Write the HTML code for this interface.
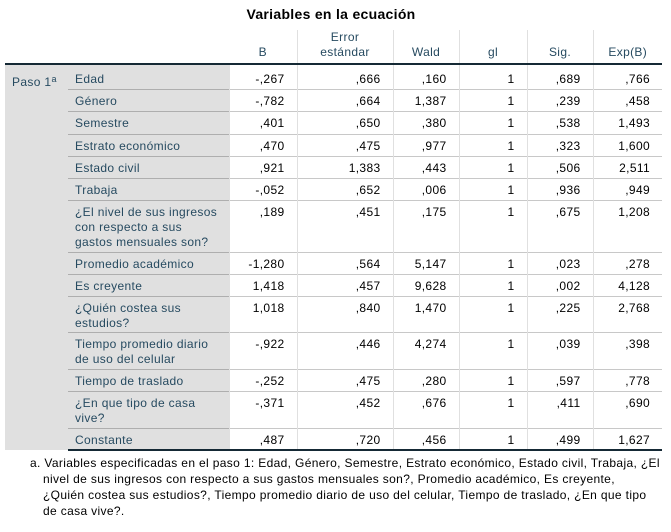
<!DOCTYPE html>
<html><head><meta charset="utf-8">
<style>
body{margin:0;width:671px;height:532px;background:#fff;position:relative;font-family:"Liberation Sans",Arial,sans-serif;font-size:12px;overflow:hidden;letter-spacing:0.35px}
#title{position:absolute;left:0;width:662px;top:6px;text-align:center;font-weight:bold;font-size:14px;color:#000;letter-spacing:0.3px}
table{position:absolute;left:5px;top:30px;border-collapse:collapse;table-layout:fixed;width:657px}
td,th{padding:0;font-weight:normal;line-height:15px;vertical-align:top;overflow:hidden;white-space:nowrap}
th{color:#264a60;text-align:center;vertical-align:bottom;padding-bottom:3px;border-left:1px solid #e0e0e0;height:29px;border-bottom:2px solid #152935}
th.e{border-left:none}
td.p{background:#e0e0e0;color:#264a60;padding:4px 0 0 7px}
td.v{background:#e0e0e0;color:#264a60;padding:4px 0 0 7px;border-top:1px solid #aeaeae}
td.n{text-align:right;padding:4px 12px 0 0;color:#000;border-top:1px solid #c8c8c8;border-left:1px solid #e0e0e0}
tr.first td.v,tr.first td.n{border-top:none;padding-top:7px}
tr.last td{border-bottom:2px solid #152935}
#foot{position:absolute;left:30px;top:455px;width:640px;line-height:16px;color:#000;white-space:nowrap}
#foot .i{padding-left:13px}
sup{font-size:9px;vertical-align:4px}
</style></head><body>
<div id="title">Variables en la ecuación</div>
<table>
<colgroup><col style="width:63px"><col style="width:161px"><col style="width:68px"><col style="width:96px"><col style="width:66px"><col style="width:68px"><col style="width:66px"><col style="width:69px"></colgroup>
<tr><th class="e"></th><th class="e"></th><th class="e">B</th><th>Error<br>estándar</th><th>Wald</th><th>gl</th><th>Sig.</th><th>Exp(B)</th></tr>
<tr class="first" style="height:25px"><td class="p" rowspan="14" style="padding-top:7px">Paso 1<sup>a</sup></td><td class="v">Edad</td><td class="n">-,267</td><td class="n">,666</td><td class="n">,160</td><td class="n">1</td><td class="n">,689</td><td class="n">,766</td></tr>
<tr style="height:22px"><td class="v">Género</td><td class="n">-,782</td><td class="n">,664</td><td class="n">1,387</td><td class="n">1</td><td class="n">,239</td><td class="n">,458</td></tr>
<tr style="height:23px"><td class="v">Semestre</td><td class="n">,401</td><td class="n">,650</td><td class="n">,380</td><td class="n">1</td><td class="n">,538</td><td class="n">1,493</td></tr>
<tr style="height:22px"><td class="v">Estrato económico</td><td class="n">,470</td><td class="n">,475</td><td class="n">,977</td><td class="n">1</td><td class="n">,323</td><td class="n">1,600</td></tr>
<tr style="height:22px"><td class="v">Estado civil</td><td class="n">,921</td><td class="n">1,383</td><td class="n">,443</td><td class="n">1</td><td class="n">,506</td><td class="n">2,511</td></tr>
<tr style="height:22px"><td class="v">Trabaja</td><td class="n">-,052</td><td class="n">,652</td><td class="n">,006</td><td class="n">1</td><td class="n">,936</td><td class="n">,949</td></tr>
<tr style="height:52px"><td class="v">¿El nivel de sus ingresos<br>con respecto a sus<br>gastos mensuales son?</td><td class="n">,189</td><td class="n">,451</td><td class="n">,175</td><td class="n">1</td><td class="n">,675</td><td class="n">1,208</td></tr>
<tr style="height:22px"><td class="v">Promedio académico</td><td class="n">-1,280</td><td class="n">,564</td><td class="n">5,147</td><td class="n">1</td><td class="n">,023</td><td class="n">,278</td></tr>
<tr style="height:22px"><td class="v">Es creyente</td><td class="n">1,418</td><td class="n">,457</td><td class="n">9,628</td><td class="n">1</td><td class="n">,002</td><td class="n">4,128</td></tr>
<tr style="height:36px"><td class="v">¿Quién costea sus<br>estudios?</td><td class="n">1,018</td><td class="n">,840</td><td class="n">1,470</td><td class="n">1</td><td class="n">,225</td><td class="n">2,768</td></tr>
<tr style="height:37px"><td class="v">Tiempo promedio diario<br>de uso del celular</td><td class="n">-,922</td><td class="n">,446</td><td class="n">4,274</td><td class="n">1</td><td class="n">,039</td><td class="n">,398</td></tr>
<tr style="height:22px"><td class="v">Tiempo de traslado</td><td class="n">-,252</td><td class="n">,475</td><td class="n">,280</td><td class="n">1</td><td class="n">,597</td><td class="n">,778</td></tr>
<tr style="height:37px"><td class="v">¿En que tipo de casa<br>vive?</td><td class="n">-,371</td><td class="n">,452</td><td class="n">,676</td><td class="n">1</td><td class="n">,411</td><td class="n">,690</td></tr>
<tr class="last" style="height:22px"><td class="v">Constante</td><td class="n">,487</td><td class="n">,720</td><td class="n">,456</td><td class="n">1</td><td class="n">,499</td><td class="n">1,627</td></tr>
</table>
<div id="foot">a. Variables especificadas en el paso 1: Edad, Género, Semestre, Estrato económico, Estado civil, Trabaja, ¿El<br><span class="i">nivel de sus ingresos con respecto a sus gastos mensuales son?, Promedio académico, Es creyente,</span><br><span class="i">¿Quién costea sus estudios?, Tiempo promedio diario de uso del celular, Tiempo de traslado, ¿En que tipo</span><br><span class="i">de casa vive?.</span></div>
</body></html>
